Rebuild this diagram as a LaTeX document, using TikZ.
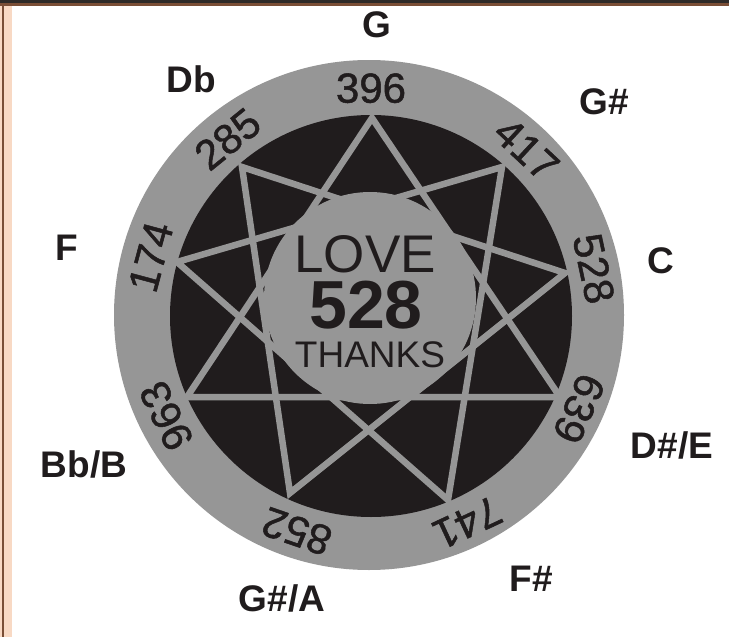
\documentclass[tikz,border=0pt]{standalone}
\usepackage{fontspec}
\setmainfont{Liberation Sans}
\newfontfamily\numfont[FakeBold=1.2]{Liberation Sans}
\definecolor{ringgray}{HTML}{969696}
\definecolor{ink}{HTML}{201C1D}
\definecolor{peach}{HTML}{F8D9C4}
\definecolor{frbrown}{HTML}{7A4E36}
\definecolor{frdark}{HTML}{2E2A28}
\begin{document}
\begin{tikzpicture}[x=1pt,y=-1pt,
  note/.style={font=\bfseries\fontsize{37}{37}\selectfont, text=ink, anchor=base, inner sep=0pt},
  freq/.style={font=\numfont\fontsize{42}{42}\selectfont, text=ink, inner sep=0pt, text depth=0pt},
  starline/.style={draw=ringgray, line width=6.5pt, line join=miter}]
\useasboundingbox (0,0) rectangle (729,637);
\fill[white] (0,0) rectangle (729,637);
% frame
\fill[peach] (0,5) rectangle (12,637);
\fill[frbrown] (1.5,4) rectangle (4,637);
\fill[frdark] (0,0) rectangle (729,3);
\fill[frbrown] (0,3) rectangle (729,5.5);
% discs
\fill[ringgray] (369,315) circle (255pt);
\fill[ink] (371,316) circle (201pt);
% star vertices
\coordinate (v396) at (372,118);
\coordinate (v417) at (502,167);
\coordinate (v528) at (565,273);
\coordinate (v639) at (560,397);
\coordinate (v741) at (448,500);
\coordinate (v852) at (290,493);
\coordinate (v963) at (187,397);
\coordinate (v174) at (177,262);
\coordinate (v285) at (242,167);
\draw[starline] (v396) -- (v639) -- (v963) -- cycle;
\draw[starline] (v417) -- (v741) -- (v174) -- cycle;
\draw[starline] (v528) -- (v852) -- (v285) -- cycle;
% centre disc
\fill[ringgray] (370,298) circle (106pt);
\node[font=\fontsize{53}{53}\selectfont, text=ink, anchor=base, inner sep=0pt] (love) at (365,272) {LOVE};
\node[font=\bfseries\fontsize{68}{68}\selectfont, text=ink, anchor=base, inner sep=0pt] (big528) at (366,328) {528};
\node[font=\fontsize{37}{37}\selectfont, text=ink, anchor=base, inner sep=0pt] (thanks) at (370,367) {THANKS};
% ring numbers
\foreach \t/\a in {396/90, 417/47, 528/12, 639/-24, 741/-65, 852/-109, 963/-154, 174/165, 285/129}{
  \node[freq, rotate=\a-90] (n\t) at ({371+228*cos(\a)},{316-228*sin(\a)}) {\t};
}
% note names
\node[note] (G) at (377,37) {G};
\node[note] (Db) at (191,92) {Db};
\node[note] (Gs) at (604,114) {G\#};
\node[note] (F) at (67,260) {F};
\node[note] (C) at (661,273) {C};
\node[note] (Bb) at (84,477) {Bb/B};
\node[note] (Ds) at (672,458) {D\#/E};
\node[note] (GsA) at (282,611) {G\#/A};
\node[note] (Fs) at (531,591) {F\#};
\end{tikzpicture}
\end{document}
